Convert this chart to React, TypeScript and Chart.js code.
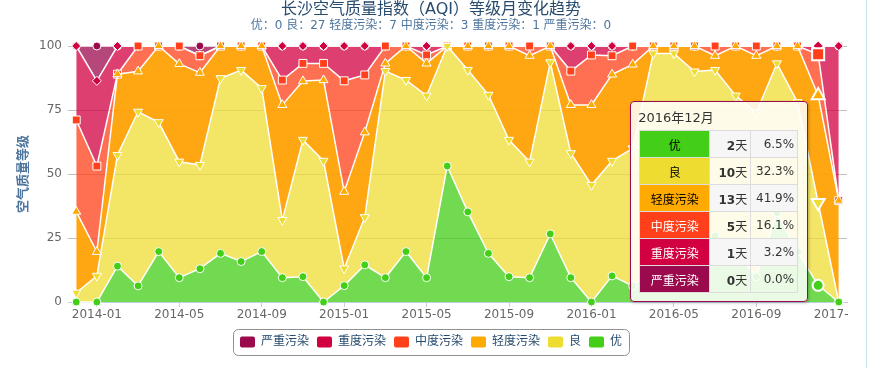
import React, { useEffect, useRef } from "react";
import { Chart, registerables } from "chart.js";

Chart.register(...registerables);

const FONT = "'DejaVu Sans', 'Noto Sans CJK SC', sans-serif";

const TITLE = "长沙空气质量指数（AQI）等级月变化趋势";
const SUBTITLE = "优：0 良：27 轻度污染：7 中度污染：3 重度污染：1 严重污染：0";
const Y_TITLE = "空气质量等级";

const MONTHS = [
  "2013-12",
  "2014-01", "2014-02", "2014-03", "2014-04", "2014-05", "2014-06",
  "2014-07", "2014-08", "2014-09", "2014-10", "2014-11", "2014-12",
  "2015-01", "2015-02", "2015-03", "2015-04", "2015-05", "2015-06",
  "2015-07", "2015-08", "2015-09", "2015-10", "2015-11", "2015-12",
  "2016-01", "2016-02", "2016-03", "2016-04", "2016-05", "2016-06",
  "2016-07", "2016-08", "2016-09", "2016-10", "2016-11", "2016-12",
  "2017-01",
];

const TICK_MONTHS = [
  "2014-01", "2014-05", "2014-09", "2015-01", "2015-05",
  "2015-09", "2016-01", "2016-05", "2016-09", "2017-01",
];

const Y_TICKS = [0, 25, 50, 75, 100];

// percentage of days per month for each level
const EXCELLENT = [
  0, 0, 14.0, 6.3, 19.7, 9.5, 13.0, 19.0, 15.8, 19.7, 9.5, 9.9, 0,
  6.4, 14.5, 9.5, 19.7, 9.5, 53.1, 35.2, 19.0, 9.9, 9.5, 26.6, 9.5,
  0, 10.2, 6.3, 13.3, 19.4, 26.7, 25.8, 19.4, 9.9, 34.9, 19.7, 6.5, 0,
];
const GOOD = [
  3.6, 10.2, 43.4, 68.0, 50.5, 45.3, 40.5, 68.4, 74.8, 63.8, 22.5, 53.4, 55.1,
  6.7, 18.6, 80.7, 67.0, 71.1, 46.9, 55.4, 61.9, 53.4, 45.3, 67.0, 48.6,
  45.7, 44.9, 53.7, 83.8, 77.7, 63.3, 64.8, 61.2, 64.1, 58.3, 58.3, 32.3, 0,
];
const LIGHT = [
  31.7, 9.4, 31.6, 15.8, 29.8, 38.2, 36.1, 12.6, 9.4, 16.5, 45.0, 23.0, 31.6,
  30.0, 33.2, 3.0, 13.3, 12.6, 0, 9.4, 19.1, 36.7, 41.4, 6.4, 18.9,
  31.3, 33.8, 32.8, 2.9, 2.9, 10.0, 5.6, 19.4, 22.2, 6.8, 22.0, 41.9, 39.6,
];
const MODERATE = [
  35.8, 33.5, 0, 9.9, 0, 7.0, 6.6, 0, 0, 0, 9.7, 6.9, 6.5,
  43.3, 22.4, 6.8, 0, 3.3, 0, 0, 0, 0, 3.8, 0, 13.2,
  19.5, 7.3, 7.2, 0, 0, 0, 3.8, 0, 3.8, 0, 0, 16.1, 0,
];
const HEAVY = [
  28.9, 33.3, 11.0, 0, 0, 0, 0, 0, 0, 0, 13.3, 6.8, 6.8,
  13.6, 11.3, 0, 0, 3.5, 0, 0, 0, 0, 0, 0, 9.8,
  3.5, 3.8, 0, 0, 0, 0, 0, 0, 0, 0, 0, 3.2, 60.4,
];
const SEVERE = [
  0, 13.6, 0, 0, 0, 0, 3.8, 0, 0, 0, 0, 0, 0,
  0, 0, 0, 0, 0, 0, 0, 0, 0, 0, 0, 0,
  0, 0, 0, 0, 0, 0, 0, 0, 0, 0, 0, 0, 0,
];

const SERIES_NAMES = ["优", "良", "轻度污染", "中度污染", "重度污染", "严重污染"];
const SERIES_VALUES = [EXCELLENT, GOOD, LIGHT, MODERATE, HEAVY, SEVERE];
const SERIES_COLORS = ["#43ce17", "#efdc31", "#ffaa00", "#ff401a", "#d20040", "#9c0a4e"];
const FILL_COLORS = [
  "rgba(67,206,23,0.75)",
  "rgba(239,220,49,0.75)",
  "rgba(255,160,0,0.93)",
  "rgba(255,64,26,0.75)",
  "rgba(210,0,64,0.75)",
  "rgba(156,10,78,0.75)",
];
const POINT_STYLES = ["circle", "triangle", "triangle", "rect", "rectRot", "circle"];
const POINT_ROTATIONS = [0, 180, 0, 0, 0, 0];
const POINT_RADII = [4, 5.2, 5.2, 5.6, 4.5, 4];
const HOVER_RADII = [5.5, 7.5, 7.5, 8.5, 6, 5.5];

// highlighted month (tooltip)
const TOOLTIP_MONTH = "2016-12";
const TOOLTIP_DAYS = [2, 10, 13, 5, 1, 0];
const TOOLTIP_WHITE_TEXT = [false, false, false, true, true, true];

const HOVER_INDEX = MONTHS.indexOf(TOOLTIP_MONTH);

const legendBorder = {
  id: "legendBorder",
  afterDraw(chart: any) {
    const boxes = chart.legend && chart.legend.legendHitBoxes;
    if (!boxes || !boxes.length) return;
    const left = Math.min(...boxes.map((b: any) => b.left));
    const right = Math.max(...boxes.map((b: any) => b.left + b.width));
    const top = Math.min(...boxes.map((b: any) => b.top));
    const bottom = Math.max(...boxes.map((b: any) => b.top + b.height));
    const ctx = chart.ctx;
    ctx.save();
    ctx.strokeStyle = "#909090";
    ctx.lineWidth = 1;
    ctx.beginPath();
    ctx.roundRect(
      Math.round(left - 7) + 0.5,
      Math.round(top - 7) + 0.5,
      Math.round(right - left + 14),
      Math.round(bottom - top + 14),
      5
    );
    ctx.stroke();
    ctx.restore();
  },
};

export default function App() {
  const canvasRef = useRef<HTMLCanvasElement | null>(null);
  const tipRef = useRef<HTMLDivElement | null>(null);

  useEffect(() => {
    if (!canvasRef.current) return;
    Chart.defaults.font.family = FONT;

    const datasets = SERIES_VALUES.map((vals, i) => ({
      label: SERIES_NAMES[i],
      data: vals.map((v, idx) => ({ x: idx, y: v })),
      backgroundColor: FILL_COLORS[i],
      borderColor: "#ffffff",
      borderWidth: 1.5,
      fill: i === 0 ? "origin" : "-1",
      tension: 0,
      clip: false as any,
      pointStyle: POINT_STYLES[i],
      pointRotation: POINT_ROTATIONS[i],
      pointBackgroundColor: SERIES_COLORS[i],
      pointBorderColor: "#ffffff",
      pointRadius: (ctx: any) => (ctx.dataIndex === HOVER_INDEX ? HOVER_RADII[i] : POINT_RADII[i]),
      pointBorderWidth: (ctx: any) => (ctx.dataIndex === HOVER_INDEX ? 2 : 1),
    }));

    const chart = new Chart(canvasRef.current, {
      type: "line",
      data: { datasets },
      plugins: [legendBorder],
      options: {
        animation: false,
        responsive: false,
        devicePixelRatio: 1,
        events: [],
        layout: { padding: { left: 15, right: 13, top: 0, bottom: 10 } },
        scales: {
          x: {
            type: "linear",
            min: -0.4,
            max: MONTHS.length - 1 + 0.4,
            border: { display: true, color: "#C0D0E0", width: 1 },
            grid: { display: true, drawOnChartArea: false, drawTicks: true, tickLength: 5, color: "#C0D0E0" },
            ticks: {
              color: "#666666",
              font: { size: 12 },
              padding: 1,
              maxRotation: 0,
              autoSkip: false,
              callback: (v: any) => MONTHS[Math.round(Number(v))] ?? "",
            },
            afterBuildTicks: (s: any) => {
              s.ticks = TICK_MONTHS.map((m) => ({ value: MONTHS.indexOf(m) }));
            },
            afterFit: (s: any) => {
              s.height = 26;
              s.paddingLeft = 0;
              s.paddingRight = 0;
            },
          },
          y: {
            stacked: true,
            min: 0,
            max: 100,
            border: { display: false },
            grid: { color: "#C0C0C0", drawTicks: false },
            ticks: { color: "#666666", font: { size: 12 }, padding: 6 },
            afterBuildTicks: (s: any) => {
              s.ticks = Y_TICKS.map((v) => ({ value: v }));
            },
            title: {
              display: true,
              text: Y_TITLE,
              color: "#4d759e",
              font: { size: 13, weight: "bold" },
              padding: { top: 1, bottom: 0 },
            },
            afterFit: (s: any) => {
              s.width = 53;
            },
          },
        },
        plugins: {
          filler: { drawTime: "beforeDatasetsDraw" },
          title: {
            display: true,
            text: TITLE,
            color: "#274b6d",
            font: { size: 16, weight: "normal", lineHeight: 1.1 },
            padding: { top: 1, bottom: 0 },
          },
          subtitle: {
            display: true,
            text: SUBTITLE,
            color: "#4d759e",
            font: { size: 12, weight: "normal", lineHeight: 1.2 },
            padding: { top: 0, bottom: 13 },
          },
          legend: {
            position: "bottom",
            reverse: true,
            labels: {
              boxWidth: 15,
              boxHeight: 11,
              padding: 8,
              color: "#274b6d",
              font: { size: 12 },
              generateLabels: (c: any) =>
                c.data.datasets.map((ds: any, i: number) => ({
                  text: ds.label,
                  fillStyle: SERIES_COLORS[i],
                  strokeStyle: SERIES_COLORS[i],
                  lineWidth: 0,
                  hidden: false,
                  datasetIndex: i,
                  borderRadius: 2,
                  fontColor: "#274b6d",
                })),
            },
          },
          tooltip: { enabled: false },
        },
      } as any,
    });

    const tip = tipRef.current;
    if (tip) {
      const px = chart.scales.x.getPixelForValue(HOVER_INDEX);
      tip.style.left = `${px - 10 - tip.offsetWidth}px`;
      tip.style.top = `${chart.chartArea.bottom - tip.offsetHeight}px`;
      tip.style.visibility = "visible";
    }

    return () => chart.destroy();
  }, []);

  const [yy, mm] = TOOLTIP_MONTH.split("-");
  const total = TOOLTIP_DAYS.reduce((a, b) => a + b, 0);

  return (
    <div style={{ position: "relative", width: 872, height: 368, fontFamily: FONT }}>
      <style>{`body{margin:0;background:#fff;}`}</style>
      <div style={{ position: "absolute", left: 0, top: 0, width: 849, height: 368, overflow: "hidden" }}>
        <canvas ref={canvasRef} width={860} height={368} style={{ display: "block" }} />
      </div>
      <div style={{ position: "absolute", left: 866, top: 0, width: 1, height: 368, background: "#c4e3ee" }} />
      <div
        ref={tipRef}
        style={{
          position: "absolute",
          left: 0,
          top: 0,
          visibility: "hidden",
          background: "rgba(255,255,255,0.85)",
          border: "1px solid #9c0a4e",
          borderRadius: 4,
          padding: "8px 9px 8px 8px",
          boxShadow: "1px 1px 3px rgba(0,0,0,0.25)",
          fontFamily: FONT,
          fontSize: 12,
          color: "#333",
          whiteSpace: "nowrap",
        }}
      >
        <div style={{ height: 16, lineHeight: "16px", fontSize: 13, marginBottom: 4, marginLeft: -1 }}>
          {`${yy}年${Number(mm)}月`}
        </div>
        <table style={{ borderCollapse: "collapse", fontSize: 12 }}>
          <tbody>
            {SERIES_NAMES.map((name, i) => {
              const cellBg = i % 2 === 0 ? "#f6f6f6" : "transparent";
              const border = "1px solid #dcdcdc";
              return (
                <tr key={name} style={{ height: 27 }}>
                  <td
                    style={{
                      width: 69,
                      padding: 0,
                      border,
                      background: SERIES_COLORS[i],
                      color: TOOLTIP_WHITE_TEXT[i] ? "#ffffff" : "#000000",
                      textAlign: "center",
                      fontSize: 12,
                    }}
                  >
                    {name}
                  </td>
                  <td style={{ width: 37, padding: "0 3px 0 0", border, background: cellBg, textAlign: "right" }}>
                    <b>{TOOLTIP_DAYS[i]}</b>天
                  </td>
                  <td style={{ width: 43, padding: "0 3px 0 0", border, background: cellBg, textAlign: "right" }}>
                    {((TOOLTIP_DAYS[i] / total) * 100).toFixed(1)}%
                  </td>
                </tr>
              );
            })}
          </tbody>
        </table>
      </div>
    </div>
  );
}
